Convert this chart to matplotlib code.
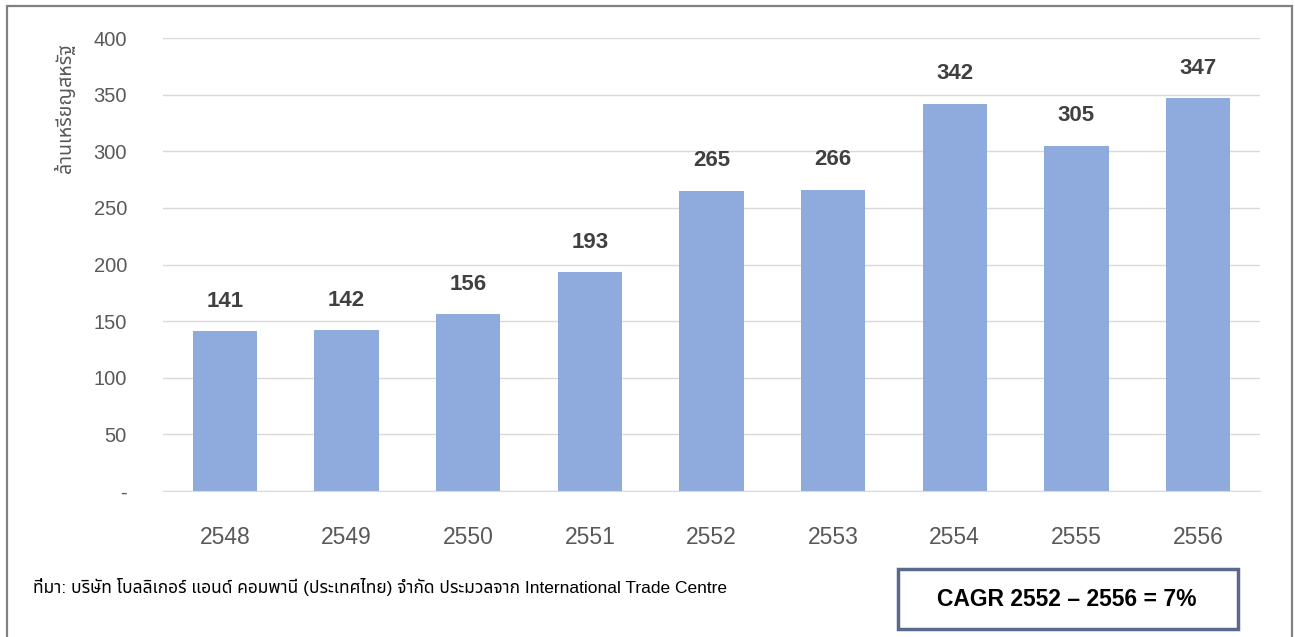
import matplotlib
matplotlib.use("Agg")
import matplotlib.pyplot as plt
from matplotlib import font_manager as fm
from matplotlib.patches import Rectangle

years = ["2548", "2549", "2550", "2551", "2552", "2553", "2554", "2555", "2556"]
values = [141, 142, 156, 193, 265, 266, 342, 305, 347]
yticks = [0, 50, 100, 150, 200, 250, 300, 350, 400]
ytick_labels = ["-", "50", "100", "150", "200", "250", "300", "350", "400"]
ylabel = "ล้านเหรียญสหรัฐ"
source = "ที่มา: บริษัท โบลลิเกอร์ แอนด์ คอมพานี (ประเทศไทย) จำกัด ประมวลจาก International Trade Centre"
cagr = "CAGR 2552 – 2556 = 7%"

installed = {f.name for f in fm.fontManager.ttflist}
thai = next((n for n in ["Noto Sans Thai", "Sarabun", "Noto Sans Thai Looped",
                          "Anuphan", "Athiti", "Bai Jamjuree"] if n in installed), None)
fams = ['Liberation Sans'] + ([thai] if thai else []) + ['DejaVu Sans']
plt.rcParams['font.family'] = fams

W, H = 1295, 637
fig = plt.figure(figsize=(W/100, H/100), dpi=100)
ax = fig.add_axes([163/W, 1-491/H, (1260-163)/W, (491-38)/H])

x = list(range(len(years)))
ax.bar(x, values, width=0.53, color="#8FAADC", zorder=3)
for xi, v in zip(x, values):
    ax.text(xi, v + 26.5, str(v), ha="center", va="center", fontsize=16,
            fontweight="bold", color="#404040")

ax.set_xlim(-0.51, 8.51)
ax.set_ylim(0, 400)
ax.set_yticks(yticks)
ax.set_yticklabels(ytick_labels, fontsize=14.5, color="#595959")
ax.set_xticks(x)
ax.set_xticklabels(years, fontsize=16.5, color="#595959")
ax.tick_params(axis="both", length=0)
ax.tick_params(axis="x", pad=25.5)
ax.tick_params(axis="y", pad=26)
ax.grid(axis="y", color="#D9D9D9", linewidth=1, zorder=0)
for s in ["top", "right", "left"]:
    ax.spines[s].set_visible(False)
ax.spines["bottom"].set_color("#D9D9D9")
ax.spines["bottom"].set_zorder(4)

fig.text(64/W, 1-108/H, ylabel, rotation=90, ha="center", va="center",
         fontsize=14, color="#595959")
fig.text(33/W, 1-587/H, source, ha="left", va="center", fontsize=12.5, color="#000000")

fig.patches.append(Rectangle((898/W, 1-629/H), (1238-898)/W, (629-569)/H,
                             transform=fig.transFigure, fill=False,
                             edgecolor="#5B6A8C", linewidth=2.5))
fig.text(1067/W, 1-600/H, cagr, ha="center", va="center", fontsize=16.5,
         fontweight="bold", color="#000000")

fig.patches.append(Rectangle((6.5/W, -0.05), (1292-6.5)/W, 1 - 6/H + 0.05,
                             transform=fig.transFigure, fill=False,
                             edgecolor="#808080", linewidth=1.6))

fig.savefig("out.png", dpi=100)
